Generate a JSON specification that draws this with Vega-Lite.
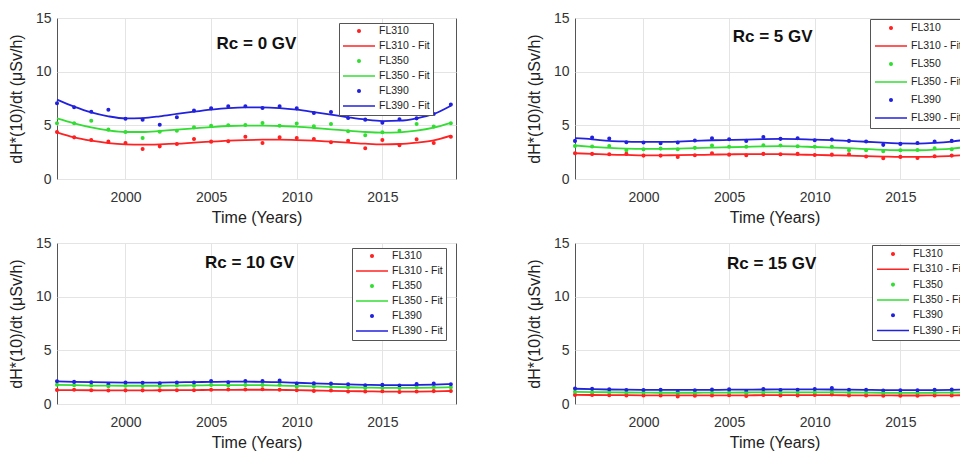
{
"$schema": "https://vega.github.io/schema/vega-lite/v6.json",
"padding": {"left": 7, "top": 10, "right": 0, "bottom": 0},
"datasets": {
"rc0": [
{"year":1996,"FL310":4.38,"FL350":5.19,"FL390":7.05,"FL310 - Fit":4.35,"FL350 - Fit":5.65,"FL390 - Fit":7.39},
{"year":1997,"FL310":3.88,"FL350":5.19,"FL390":6.68,"FL310 - Fit":3.88,"FL350 - Fit":5.19,"FL390 - Fit":6.74},
{"year":1998,"FL310":3.63,"FL350":5.43,"FL390":6.27,"FL310 - Fit":3.57,"FL350 - Fit":4.81,"FL390 - Fit":6.2},
{"year":1999,"FL310":3.48,"FL350":4.6,"FL390":6.46,"FL310 - Fit":3.35,"FL350 - Fit":4.53,"FL390 - Fit":5.84},
{"year":2000,"FL310":3.35,"FL350":4.38,"FL390":5.62,"FL310 - Fit":3.23,"FL350 - Fit":4.38,"FL390 - Fit":5.65},
{"year":2001,"FL310":2.8,"FL350":3.82,"FL390":5.53,"FL310 - Fit":3.2,"FL350 - Fit":4.38,"FL390 - Fit":5.68},
{"year":2002,"FL310":3.04,"FL350":4.41,"FL390":5.06,"FL310 - Fit":3.23,"FL350 - Fit":4.47,"FL390 - Fit":5.84},
{"year":2003,"FL310":3.26,"FL350":4.5,"FL390":5.75,"FL310 - Fit":3.29,"FL350 - Fit":4.6,"FL390 - Fit":6.06},
{"year":2004,"FL310":3.73,"FL350":4.81,"FL390":6.37,"FL310 - Fit":3.39,"FL350 - Fit":4.72,"FL390 - Fit":6.27},
{"year":2005,"FL310":3.48,"FL350":4.97,"FL390":6.58,"FL310 - Fit":3.48,"FL350 - Fit":4.84,"FL390 - Fit":6.46},
{"year":2006,"FL310":3.51,"FL350":5.0,"FL390":6.77,"FL310 - Fit":3.57,"FL350 - Fit":4.94,"FL390 - Fit":6.61},
{"year":2007,"FL310":3.94,"FL350":5.03,"FL390":6.77,"FL310 - Fit":3.63,"FL350 - Fit":4.97,"FL390 - Fit":6.68},
{"year":2008,"FL310":3.35,"FL350":5.22,"FL390":6.61,"FL310 - Fit":3.66,"FL350 - Fit":4.97,"FL390 - Fit":6.68},
{"year":2009,"FL310":3.88,"FL350":4.97,"FL390":6.77,"FL310 - Fit":3.66,"FL350 - Fit":4.94,"FL390 - Fit":6.61},
{"year":2010,"FL310":3.82,"FL350":5.16,"FL390":6.58,"FL310 - Fit":3.63,"FL350 - Fit":4.88,"FL390 - Fit":6.46},
{"year":2011,"FL310":3.73,"FL350":4.91,"FL390":6.15,"FL310 - Fit":3.57,"FL350 - Fit":4.75,"FL390 - Fit":6.24},
{"year":2012,"FL310":3.42,"FL350":5.12,"FL390":6.24,"FL310 - Fit":3.48,"FL350 - Fit":4.63,"FL390 - Fit":6.0},
{"year":2013,"FL310":3.57,"FL350":4.44,"FL390":5.68,"FL310 - Fit":3.39,"FL350 - Fit":4.5,"FL390 - Fit":5.75},
{"year":2014,"FL310":2.86,"FL350":4.07,"FL390":5.53,"FL310 - Fit":3.29,"FL350 - Fit":4.38,"FL390 - Fit":5.53},
{"year":2015,"FL310":3.63,"FL350":4.35,"FL390":5.25,"FL310 - Fit":3.23,"FL350 - Fit":4.32,"FL390 - Fit":5.4},
{"year":2016,"FL310":3.14,"FL350":4.5,"FL390":5.56,"FL310 - Fit":3.26,"FL350 - Fit":4.35,"FL390 - Fit":5.43},
{"year":2017,"FL310":3.7,"FL350":5.12,"FL390":5.65,"FL310 - Fit":3.39,"FL350 - Fit":4.5,"FL390 - Fit":5.65},
{"year":2018,"FL310":3.35,"FL350":4.88,"FL390":6.06,"FL310 - Fit":3.6,"FL350 - Fit":4.78,"FL390 - Fit":6.06},
{"year":2019,"FL310":3.94,"FL350":5.19,"FL390":6.93,"FL310 - Fit":4.04,"FL350 - Fit":5.22,"FL390 - Fit":6.83}
],
"rc5": [
{"year":1996,"FL310":2.4,"FL350":3.08,"FL390":3.55,"FL310 - Fit":2.4,"FL350 - Fit":3.12,"FL390 - Fit":3.8},
{"year":1997,"FL310":2.34,"FL350":3.02,"FL390":3.86,"FL310 - Fit":2.34,"FL350 - Fit":3.0,"FL390 - Fit":3.7},
{"year":1998,"FL310":2.3,"FL350":3.08,"FL390":3.77,"FL310 - Fit":2.27,"FL350 - Fit":2.9,"FL390 - Fit":3.55},
{"year":1999,"FL310":2.34,"FL350":2.68,"FL390":3.43,"FL310 - Fit":2.24,"FL350 - Fit":2.83,"FL390 - Fit":3.49},
{"year":2000,"FL310":2.18,"FL350":2.77,"FL390":3.4,"FL310 - Fit":2.21,"FL350 - Fit":2.8,"FL390 - Fit":3.46},
{"year":2001,"FL310":2.18,"FL350":2.83,"FL390":3.33,"FL310 - Fit":2.21,"FL350 - Fit":2.8,"FL390 - Fit":3.46},
{"year":2002,"FL310":2.06,"FL350":2.77,"FL390":3.4,"FL310 - Fit":2.22,"FL350 - Fit":2.83,"FL390 - Fit":3.49},
{"year":2003,"FL310":2.21,"FL350":2.9,"FL390":3.58,"FL310 - Fit":2.24,"FL350 - Fit":2.87,"FL390 - Fit":3.55},
{"year":2004,"FL310":2.4,"FL350":3.12,"FL390":3.8,"FL310 - Fit":2.27,"FL350 - Fit":2.93,"FL390 - Fit":3.61},
{"year":2005,"FL310":2.27,"FL350":3.0,"FL390":3.7,"FL310 - Fit":2.3,"FL350 - Fit":2.96,"FL390 - Fit":3.64},
{"year":2006,"FL310":2.21,"FL350":3.0,"FL390":3.55,"FL310 - Fit":2.31,"FL350 - Fit":3.0,"FL390 - Fit":3.67},
{"year":2007,"FL310":2.34,"FL350":3.15,"FL390":3.92,"FL310 - Fit":2.32,"FL350 - Fit":3.04,"FL390 - Fit":3.72},
{"year":2008,"FL310":2.3,"FL350":3.12,"FL390":3.74,"FL310 - Fit":2.31,"FL350 - Fit":3.06,"FL390 - Fit":3.74},
{"year":2009,"FL310":2.34,"FL350":3.05,"FL390":3.8,"FL310 - Fit":2.28,"FL350 - Fit":3.04,"FL390 - Fit":3.72},
{"year":2010,"FL310":2.24,"FL350":3.0,"FL390":3.61,"FL310 - Fit":2.24,"FL350 - Fit":2.98,"FL390 - Fit":3.66},
{"year":2011,"FL310":2.27,"FL350":3.0,"FL390":3.67,"FL310 - Fit":2.21,"FL350 - Fit":2.93,"FL390 - Fit":3.63},
{"year":2012,"FL310":2.3,"FL350":2.68,"FL390":3.55,"FL310 - Fit":2.18,"FL350 - Fit":2.87,"FL390 - Fit":3.55},
{"year":2013,"FL310":2.09,"FL350":2.68,"FL390":3.49,"FL310 - Fit":2.13,"FL350 - Fit":2.79,"FL390 - Fit":3.47},
{"year":2014,"FL310":1.93,"FL350":2.59,"FL390":3.18,"FL310 - Fit":2.09,"FL350 - Fit":2.72,"FL390 - Fit":3.38},
{"year":2015,"FL310":2.06,"FL350":2.68,"FL390":3.27,"FL310 - Fit":2.06,"FL350 - Fit":2.68,"FL390 - Fit":3.31},
{"year":2016,"FL310":1.96,"FL350":2.71,"FL390":3.36,"FL310 - Fit":2.06,"FL350 - Fit":2.68,"FL390 - Fit":3.3},
{"year":2017,"FL310":2.12,"FL350":2.87,"FL390":3.49,"FL310 - Fit":2.09,"FL350 - Fit":2.74,"FL390 - Fit":3.36},
{"year":2018,"FL310":2.18,"FL350":2.77,"FL390":3.55,"FL310 - Fit":2.15,"FL350 - Fit":2.83,"FL390 - Fit":3.49},
{"year":2019,"FL310":2.3,"FL350":2.93,"FL390":3.7,"FL310 - Fit":2.27,"FL350 - Fit":3.02,"FL390 - Fit":3.7}
],
"rc10": [
{"year":1996,"FL310":1.3,"FL350":1.8,"FL390":2.12,"FL310 - Fit":1.3,"FL350 - Fit":1.78,"FL390 - Fit":2.1},
{"year":1997,"FL310":1.32,"FL350":1.75,"FL390":2.06,"FL310 - Fit":1.29,"FL350 - Fit":1.75,"FL390 - Fit":2.06},
{"year":1998,"FL310":1.28,"FL350":1.72,"FL390":2.03,"FL310 - Fit":1.28,"FL350 - Fit":1.72,"FL390 - Fit":2.03},
{"year":1999,"FL310":1.25,"FL350":1.65,"FL390":1.84,"FL310 - Fit":1.27,"FL350 - Fit":1.71,"FL390 - Fit":2.01},
{"year":2000,"FL310":1.27,"FL350":1.7,"FL390":2.0,"FL310 - Fit":1.27,"FL350 - Fit":1.7,"FL390 - Fit":2.0},
{"year":2001,"FL310":1.27,"FL350":1.68,"FL390":1.97,"FL310 - Fit":1.27,"FL350 - Fit":1.7,"FL390 - Fit":2.0},
{"year":2002,"FL310":1.27,"FL350":1.68,"FL390":1.92,"FL310 - Fit":1.28,"FL350 - Fit":1.7,"FL390 - Fit":2.0},
{"year":2003,"FL310":1.28,"FL350":1.72,"FL390":2.0,"FL310 - Fit":1.29,"FL350 - Fit":1.72,"FL390 - Fit":2.02},
{"year":2004,"FL310":1.28,"FL350":1.7,"FL390":2.0,"FL310 - Fit":1.3,"FL350 - Fit":1.73,"FL390 - Fit":2.04},
{"year":2005,"FL310":1.32,"FL350":1.78,"FL390":2.15,"FL310 - Fit":1.31,"FL350 - Fit":1.75,"FL390 - Fit":2.06},
{"year":2006,"FL310":1.35,"FL350":1.72,"FL390":2.02,"FL310 - Fit":1.32,"FL350 - Fit":1.76,"FL390 - Fit":2.08},
{"year":2007,"FL310":1.35,"FL350":1.78,"FL390":2.15,"FL310 - Fit":1.33,"FL350 - Fit":1.76,"FL390 - Fit":2.08},
{"year":2008,"FL310":1.37,"FL350":1.78,"FL390":2.15,"FL310 - Fit":1.33,"FL350 - Fit":1.75,"FL390 - Fit":2.07},
{"year":2009,"FL310":1.33,"FL350":1.8,"FL390":2.18,"FL310 - Fit":1.31,"FL350 - Fit":1.72,"FL390 - Fit":2.03},
{"year":2010,"FL310":1.28,"FL350":1.6,"FL390":1.9,"FL310 - Fit":1.29,"FL350 - Fit":1.68,"FL390 - Fit":1.98},
{"year":2011,"FL310":1.22,"FL350":1.62,"FL390":1.92,"FL310 - Fit":1.26,"FL350 - Fit":1.64,"FL390 - Fit":1.93},
{"year":2012,"FL310":1.25,"FL350":1.6,"FL390":1.9,"FL310 - Fit":1.23,"FL350 - Fit":1.6,"FL390 - Fit":1.88},
{"year":2013,"FL310":1.17,"FL350":1.55,"FL390":1.84,"FL310 - Fit":1.2,"FL350 - Fit":1.56,"FL390 - Fit":1.83},
{"year":2014,"FL310":1.17,"FL350":1.5,"FL390":1.75,"FL310 - Fit":1.18,"FL350 - Fit":1.53,"FL390 - Fit":1.79},
{"year":2015,"FL310":1.18,"FL350":1.52,"FL390":1.78,"FL310 - Fit":1.16,"FL350 - Fit":1.51,"FL390 - Fit":1.76},
{"year":2016,"FL310":1.12,"FL350":1.48,"FL390":1.72,"FL310 - Fit":1.15,"FL350 - Fit":1.5,"FL390 - Fit":1.75},
{"year":2017,"FL310":1.17,"FL350":1.56,"FL390":1.87,"FL310 - Fit":1.16,"FL350 - Fit":1.51,"FL390 - Fit":1.77},
{"year":2018,"FL310":1.2,"FL350":1.58,"FL390":1.9,"FL310 - Fit":1.18,"FL350 - Fit":1.53,"FL390 - Fit":1.8},
{"year":2019,"FL310":1.22,"FL350":1.55,"FL390":1.84,"FL310 - Fit":1.21,"FL350 - Fit":1.57,"FL390 - Fit":1.86}
],
"rc15": [
{"year":1996,"FL310":0.85,"FL350":1.15,"FL390":1.44,"FL310 - Fit":0.85,"FL350 - Fit":1.14,"FL390 - Fit":1.42},
{"year":1997,"FL310":0.85,"FL350":1.12,"FL390":1.42,"FL310 - Fit":0.84,"FL350 - Fit":1.11,"FL390 - Fit":1.38},
{"year":1998,"FL310":0.82,"FL350":1.1,"FL390":1.38,"FL310 - Fit":0.83,"FL350 - Fit":1.09,"FL390 - Fit":1.35},
{"year":1999,"FL310":0.8,"FL350":1.05,"FL390":1.3,"FL310 - Fit":0.82,"FL350 - Fit":1.07,"FL390 - Fit":1.33},
{"year":2000,"FL310":0.8,"FL350":1.06,"FL390":1.3,"FL310 - Fit":0.81,"FL350 - Fit":1.06,"FL390 - Fit":1.32},
{"year":2001,"FL310":0.8,"FL350":1.06,"FL390":1.32,"FL310 - Fit":0.8,"FL350 - Fit":1.05,"FL390 - Fit":1.31},
{"year":2002,"FL310":0.7,"FL350":0.95,"FL390":1.15,"FL310 - Fit":0.8,"FL350 - Fit":1.05,"FL390 - Fit":1.31},
{"year":2003,"FL310":0.78,"FL350":1.03,"FL390":1.28,"FL310 - Fit":0.8,"FL350 - Fit":1.05,"FL390 - Fit":1.31},
{"year":2004,"FL310":0.8,"FL350":1.07,"FL390":1.34,"FL310 - Fit":0.8,"FL350 - Fit":1.06,"FL390 - Fit":1.32},
{"year":2005,"FL310":0.82,"FL350":1.08,"FL390":1.36,"FL310 - Fit":0.81,"FL350 - Fit":1.06,"FL390 - Fit":1.33},
{"year":2006,"FL310":0.75,"FL350":1.0,"FL390":1.22,"FL310 - Fit":0.81,"FL350 - Fit":1.07,"FL390 - Fit":1.34},
{"year":2007,"FL310":0.85,"FL350":1.1,"FL390":1.4,"FL310 - Fit":0.82,"FL350 - Fit":1.08,"FL390 - Fit":1.35},
{"year":2008,"FL310":0.8,"FL350":1.05,"FL390":1.3,"FL310 - Fit":0.82,"FL350 - Fit":1.08,"FL390 - Fit":1.36},
{"year":2009,"FL310":0.8,"FL350":1.06,"FL390":1.32,"FL310 - Fit":0.82,"FL350 - Fit":1.08,"FL390 - Fit":1.36},
{"year":2010,"FL310":0.85,"FL350":1.1,"FL390":1.4,"FL310 - Fit":0.82,"FL350 - Fit":1.08,"FL390 - Fit":1.36},
{"year":2011,"FL310":0.88,"FL350":1.15,"FL390":1.48,"FL310 - Fit":0.82,"FL350 - Fit":1.08,"FL390 - Fit":1.35},
{"year":2012,"FL310":0.8,"FL350":1.05,"FL390":1.32,"FL310 - Fit":0.81,"FL350 - Fit":1.07,"FL390 - Fit":1.34},
{"year":2013,"FL310":0.8,"FL350":1.06,"FL390":1.32,"FL310 - Fit":0.8,"FL350 - Fit":1.06,"FL390 - Fit":1.32},
{"year":2014,"FL310":0.77,"FL350":1.02,"FL390":1.26,"FL310 - Fit":0.8,"FL350 - Fit":1.05,"FL390 - Fit":1.3},
{"year":2015,"FL310":0.78,"FL350":1.02,"FL390":1.27,"FL310 - Fit":0.79,"FL350 - Fit":1.04,"FL390 - Fit":1.29},
{"year":2016,"FL310":0.78,"FL350":1.02,"FL390":1.27,"FL310 - Fit":0.79,"FL350 - Fit":1.04,"FL390 - Fit":1.29},
{"year":2017,"FL310":0.8,"FL350":1.05,"FL390":1.32,"FL310 - Fit":0.8,"FL350 - Fit":1.05,"FL390 - Fit":1.3},
{"year":2018,"FL310":0.8,"FL350":1.06,"FL390":1.34,"FL310 - Fit":0.81,"FL350 - Fit":1.06,"FL390 - Fit":1.32},
{"year":2019,"FL310":0.82,"FL350":1.08,"FL390":1.35,"FL310 - Fit":0.82,"FL350 - Fit":1.08,"FL390 - Fit":1.35}
]
},
"columns": 2,
"bounds": "flush",
"spacing": {"row": 64, "column": 119},
"resolve": {"scale": {"color": "independent", "stroke": "independent", "shape": "independent", "x": "independent", "y": "independent"}, "legend": {"color": "independent", "stroke": "independent", "shape": "independent"}},
"concat": [
{
"width": 399, "height": 161,
"data": {"name": "rc0"},
"layer": [
{"transform": [{"fold": ["FL310", "FL350", "FL390"], "as": ["series", "value"]}],
 "mark": {"type": "point", "filled": true, "opacity": 1, "size": 1024, "strokeWidth": 1.5},
 "encoding": {
  "x": {"field": "year", "type": "quantitative", "scale": {"domain": [1996, 2019.3], "nice": false}, "axis": {"values": [2000, 2005, 2010, 2015], "format": "d", "title": "Time (Years)"}},
  "y": {"field": "value", "type": "quantitative", "scale": {"domain": [0, 15], "nice": false}, "axis": {"values": [0, 5, 10, 15], "title": "dH*(10)/dt (μSv/h)"}},
  "color": {"field": "series", "type": "nominal",
   "scale": {"domain": ["FL310", "FL310 - Fit", "FL350", "FL350 - Fit", "FL390", "FL390 - Fit"], "range": ["#ff2222", "#ff2222", "#33dd33", "#33dd33", "#2222dd", "#2222dd"]},
   "legend": {"title": null, "orient": "none", "legendX": 282, "legendY": 5, "columns": 1, "symbolSize": 1024, "clipHeight": 10, "rowPadding": 4, "padding": 3, "labelOffset": 3, "labelFontSize": 10.5}},
  "stroke": {"field": "series", "type": "nominal",
   "scale": {"domain": ["FL310", "FL310 - Fit", "FL350", "FL350 - Fit", "FL390", "FL390 - Fit"], "range": ["#ff2222", "#ff2222", "#33dd33", "#33dd33", "#2222dd", "#2222dd"]}, "legend": {"title": null}},
  "shape": {"field": "series", "type": "nominal",
   "scale": {"domain": ["FL310", "FL310 - Fit", "FL350", "FL350 - Fit", "FL390", "FL390 - Fit"], "range": ["M-0.08,0A0.08,0.08,0,1,0,0.08,0A0.08,0.08,0,1,0,-0.08,0Z", "stroke", "M-0.08,0A0.08,0.08,0,1,0,0.08,0A0.08,0.08,0,1,0,-0.08,0Z", "stroke", "M-0.08,0A0.08,0.08,0,1,0,0.08,0A0.08,0.08,0,1,0,-0.08,0Z", "stroke"]}, "legend": {"title": null}}
 }},
{"transform": [{"fold": ["FL310 - Fit", "FL350 - Fit", "FL390 - Fit"], "as": ["series", "value"]}],
 "mark": {"type": "line", "interpolate": "monotone", "strokeWidth": 1.8},
 "encoding": {
  "x": {"field": "year", "type": "quantitative"},
  "y": {"field": "value", "type": "quantitative"},
  "color": {"field": "series", "type": "nominal", "scale": {"domain": ["FL310", "FL310 - Fit", "FL350", "FL350 - Fit", "FL390", "FL390 - Fit"]}}
 }},
{"data": {"values": [{"t": "Rc = 0 GV"}]},
 "mark": {"type": "text", "fontSize": 17, "fontWeight": "bold", "font": "Liberation Sans", "color": "#111"},
 "encoding": {"x": {"datum": 2007.65}, "y": {"datum": 12.6}, "text": {"field": "t"}}}
]
},
{
"width": 399, "height": 161,
"data": {"name": "rc5"},
"layer": [
{"transform": [{"fold": ["FL310", "FL350", "FL390"], "as": ["series", "value"]}],
 "mark": {"type": "point", "filled": true, "opacity": 1, "size": 1024, "strokeWidth": 1.5},
 "encoding": {
  "x": {"field": "year", "type": "quantitative", "scale": {"domain": [1996, 2019.3], "nice": false}, "axis": {"values": [2000, 2005, 2010, 2015], "format": "d", "title": "Time (Years)"}},
  "y": {"field": "value", "type": "quantitative", "scale": {"domain": [0, 15], "nice": false}, "axis": {"values": [0, 5, 10, 15], "title": "dH*(10)/dt (μSv/h)"}},
  "color": {"field": "series", "type": "nominal",
   "scale": {"domain": ["FL310", "FL310 - Fit", "FL350", "FL350 - Fit", "FL390", "FL390 - Fit"], "range": ["#ff2222", "#ff2222", "#33dd33", "#33dd33", "#2222dd", "#2222dd"]},
   "legend": {"title": null, "orient": "none", "legendX": 295, "legendY": 1, "columns": 1, "symbolSize": 1024, "clipHeight": 10, "rowPadding": 7, "padding": 4, "labelOffset": 3, "labelFontSize": 10.5}},
  "stroke": {"field": "series", "type": "nominal",
   "scale": {"domain": ["FL310", "FL310 - Fit", "FL350", "FL350 - Fit", "FL390", "FL390 - Fit"], "range": ["#ff2222", "#ff2222", "#33dd33", "#33dd33", "#2222dd", "#2222dd"]}, "legend": {"title": null}},
  "shape": {"field": "series", "type": "nominal",
   "scale": {"domain": ["FL310", "FL310 - Fit", "FL350", "FL350 - Fit", "FL390", "FL390 - Fit"], "range": ["M-0.08,0A0.08,0.08,0,1,0,0.08,0A0.08,0.08,0,1,0,-0.08,0Z", "stroke", "M-0.08,0A0.08,0.08,0,1,0,0.08,0A0.08,0.08,0,1,0,-0.08,0Z", "stroke", "M-0.08,0A0.08,0.08,0,1,0,0.08,0A0.08,0.08,0,1,0,-0.08,0Z", "stroke"]}, "legend": {"title": null}}
 }},
{"transform": [{"fold": ["FL310 - Fit", "FL350 - Fit", "FL390 - Fit"], "as": ["series", "value"]}],
 "mark": {"type": "line", "interpolate": "monotone", "strokeWidth": 1.8},
 "encoding": {
  "x": {"field": "year", "type": "quantitative"},
  "y": {"field": "value", "type": "quantitative"},
  "color": {"field": "series", "type": "nominal", "scale": {"domain": ["FL310", "FL310 - Fit", "FL350", "FL350 - Fit", "FL390", "FL390 - Fit"]}}
 }},
{"data": {"values": [{"t": "Rc = 5 GV"}]},
 "mark": {"type": "text", "fontSize": 17, "fontWeight": "bold", "font": "Liberation Sans", "color": "#111"},
 "encoding": {"x": {"datum": 2007.54}, "y": {"datum": 13.2}, "text": {"field": "t"}}}
]
},
{
"width": 399, "height": 161,
"data": {"name": "rc10"},
"layer": [
{"transform": [{"fold": ["FL310", "FL350", "FL390"], "as": ["series", "value"]}],
 "mark": {"type": "point", "filled": true, "opacity": 1, "size": 1024, "strokeWidth": 1.5},
 "encoding": {
  "x": {"field": "year", "type": "quantitative", "scale": {"domain": [1996, 2019.3], "nice": false}, "axis": {"values": [2000, 2005, 2010, 2015], "format": "d", "title": "Time (Years)"}},
  "y": {"field": "value", "type": "quantitative", "scale": {"domain": [0, 15], "nice": false}, "axis": {"values": [0, 5, 10, 15], "title": "dH*(10)/dt (μSv/h)"}},
  "color": {"field": "series", "type": "nominal",
   "scale": {"domain": ["FL310", "FL310 - Fit", "FL350", "FL350 - Fit", "FL390", "FL390 - Fit"], "range": ["#ff2222", "#ff2222", "#33dd33", "#33dd33", "#2222dd", "#2222dd"]},
   "legend": {"title": null, "orient": "none", "legendX": 295, "legendY": 5, "columns": 1, "symbolSize": 1024, "clipHeight": 10, "rowPadding": 4, "padding": 3, "labelOffset": 3, "labelFontSize": 10.5}},
  "stroke": {"field": "series", "type": "nominal",
   "scale": {"domain": ["FL310", "FL310 - Fit", "FL350", "FL350 - Fit", "FL390", "FL390 - Fit"], "range": ["#ff2222", "#ff2222", "#33dd33", "#33dd33", "#2222dd", "#2222dd"]}, "legend": {"title": null}},
  "shape": {"field": "series", "type": "nominal",
   "scale": {"domain": ["FL310", "FL310 - Fit", "FL350", "FL350 - Fit", "FL390", "FL390 - Fit"], "range": ["M-0.08,0A0.08,0.08,0,1,0,0.08,0A0.08,0.08,0,1,0,-0.08,0Z", "stroke", "M-0.08,0A0.08,0.08,0,1,0,0.08,0A0.08,0.08,0,1,0,-0.08,0Z", "stroke", "M-0.08,0A0.08,0.08,0,1,0,0.08,0A0.08,0.08,0,1,0,-0.08,0Z", "stroke"]}, "legend": {"title": null}}
 }},
{"transform": [{"fold": ["FL310 - Fit", "FL350 - Fit", "FL390 - Fit"], "as": ["series", "value"]}],
 "mark": {"type": "line", "interpolate": "monotone", "strokeWidth": 1.8},
 "encoding": {
  "x": {"field": "year", "type": "quantitative"},
  "y": {"field": "value", "type": "quantitative"},
  "color": {"field": "series", "type": "nominal", "scale": {"domain": ["FL310", "FL310 - Fit", "FL350", "FL350 - Fit", "FL390", "FL390 - Fit"]}}
 }},
{"data": {"values": [{"t": "Rc = 10 GV"}]},
 "mark": {"type": "text", "fontSize": 17, "fontWeight": "bold", "font": "Liberation Sans", "color": "#111"},
 "encoding": {"x": {"datum": 2007.25}, "y": {"datum": 13.1}, "text": {"field": "t"}}}
]
},
{
"width": 399, "height": 161,
"data": {"name": "rc15"},
"layer": [
{"transform": [{"fold": ["FL310", "FL350", "FL390"], "as": ["series", "value"]}],
 "mark": {"type": "point", "filled": true, "opacity": 1, "size": 1024, "strokeWidth": 1.5},
 "encoding": {
  "x": {"field": "year", "type": "quantitative", "scale": {"domain": [1996, 2019.3], "nice": false}, "axis": {"values": [2000, 2005, 2010, 2015], "format": "d", "title": "Time (Years)"}},
  "y": {"field": "value", "type": "quantitative", "scale": {"domain": [0, 15], "nice": false}, "axis": {"values": [0, 5, 10, 15], "title": "dH*(10)/dt (μSv/h)"}},
  "color": {"field": "series", "type": "nominal",
   "scale": {"domain": ["FL310", "FL310 - Fit", "FL350", "FL350 - Fit", "FL390", "FL390 - Fit"], "range": ["#ff2222", "#ff2222", "#33dd33", "#33dd33", "#2222dd", "#2222dd"]},
   "legend": {"title": null, "orient": "none", "legendX": 297, "legendY": 2, "columns": 1, "symbolSize": 1024, "clipHeight": 10, "rowPadding": 4.3, "padding": 4, "labelOffset": 3, "labelFontSize": 10.5}},
  "stroke": {"field": "series", "type": "nominal",
   "scale": {"domain": ["FL310", "FL310 - Fit", "FL350", "FL350 - Fit", "FL390", "FL390 - Fit"], "range": ["#ff2222", "#ff2222", "#33dd33", "#33dd33", "#2222dd", "#2222dd"]}, "legend": {"title": null}},
  "shape": {"field": "series", "type": "nominal",
   "scale": {"domain": ["FL310", "FL310 - Fit", "FL350", "FL350 - Fit", "FL390", "FL390 - Fit"], "range": ["M-0.08,0A0.08,0.08,0,1,0,0.08,0A0.08,0.08,0,1,0,-0.08,0Z", "stroke", "M-0.08,0A0.08,0.08,0,1,0,0.08,0A0.08,0.08,0,1,0,-0.08,0Z", "stroke", "M-0.08,0A0.08,0.08,0,1,0,0.08,0A0.08,0.08,0,1,0,-0.08,0Z", "stroke"]}, "legend": {"title": null}}
 }},
{"transform": [{"fold": ["FL310 - Fit", "FL350 - Fit", "FL390 - Fit"], "as": ["series", "value"]}],
 "mark": {"type": "line", "interpolate": "monotone", "strokeWidth": 1.8},
 "encoding": {
  "x": {"field": "year", "type": "quantitative"},
  "y": {"field": "value", "type": "quantitative"},
  "color": {"field": "series", "type": "nominal", "scale": {"domain": ["FL310", "FL310 - Fit", "FL350", "FL350 - Fit", "FL390", "FL390 - Fit"]}}
 }},
{"data": {"values": [{"t": "Rc = 15 GV"}]},
 "mark": {"type": "text", "fontSize": 17, "fontWeight": "bold", "font": "Liberation Sans", "color": "#111"},
 "encoding": {"x": {"datum": 2007.48}, "y": {"datum": 13.0}, "text": {"field": "t"}}}
]
}
],
"config": {
 "font": "Liberation Sans",
 "view": {"stroke": "#555", "strokeWidth": 1},
 "axis": {"labelFont": "Liberation Sans", "labelFontSize": 14, "labelColor": "#333", "titleFont": "Liberation Sans", "titleFontSize": 16, "titleFontWeight": "normal", "titleColor": "#222", "grid": true, "gridColor": "#e4e4e4", "domain": false, "ticks": false, "tickSize": 0},
 "axisX": {"labelPadding": 11, "titlePadding": 5},
 "axisY": {"labelPadding": 6, "titlePadding": 11},
 "legend": {"labelFont": "Liberation Sans", "labelColor": "#222", "strokeColor": "#555", "fillColor": "white", "cornerRadius": 0, "symbolStrokeWidth": 1.5}
}
}
